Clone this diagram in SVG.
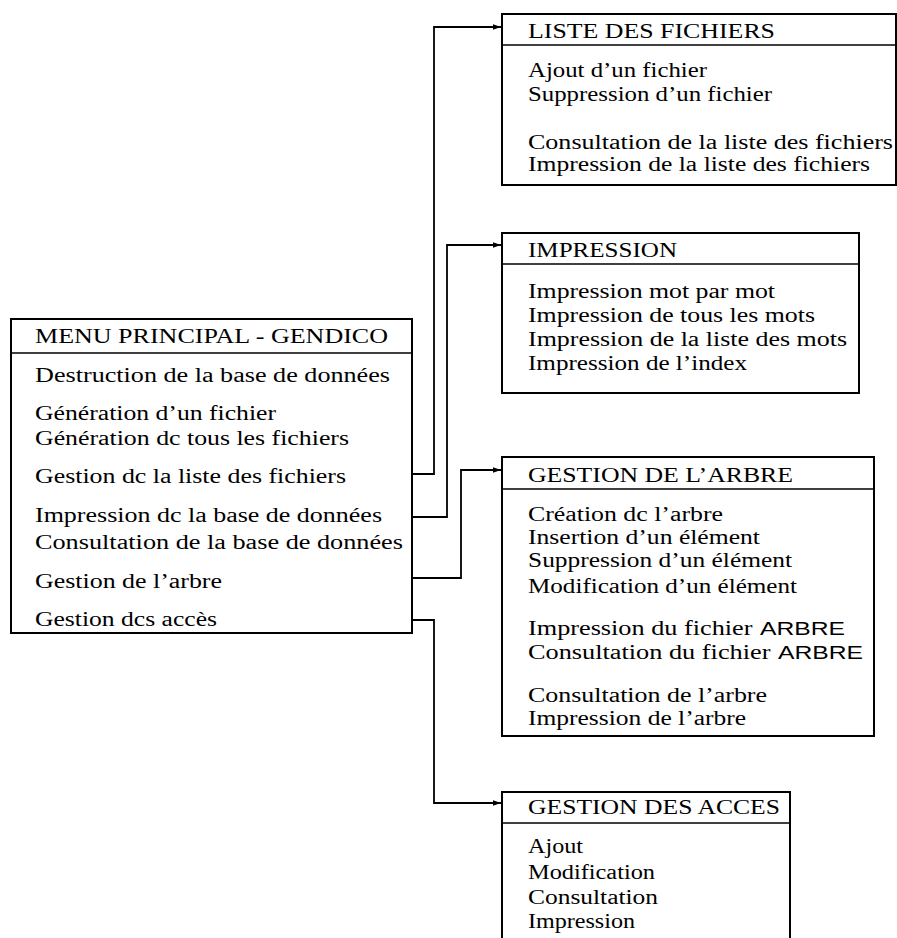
<svg xmlns="http://www.w3.org/2000/svg" width="897" height="938" viewBox="0 0 897 938">
<style>
.box{fill:#fff;stroke:#000;stroke-width:2}
.div{stroke:#000;stroke-width:1.6}
text{font-family:"Liberation Serif","DejaVu Serif",serif;font-size:20.5px;fill:#000}
.ss{font-family:"Liberation Sans","DejaVu Sans",sans-serif;font-size:18px}
.con{fill:none;stroke:#000;stroke-width:1.8}
</style>
<defs>
<marker id="arr" markerUnits="userSpaceOnUse" markerWidth="9" markerHeight="7" refX="8" refY="3.5" orient="auto">
<path d="M0,0.8 L8,3.5 L0,6.2 z" fill="#000"/>
</marker>
</defs>
<rect width="897" height="938" fill="#fff"/>

<g id="connectors">
<path class="con" d="M412,474 H434 V27 H501" marker-end="url(#arr)"/>
<path class="con" d="M412,517 H447 V245 H501" marker-end="url(#arr)"/>
<path class="con" d="M412,578 H461 V470 H501" marker-end="url(#arr)"/>
<path class="con" d="M412,620 H434 V803 H501" marker-end="url(#arr)"/>
</g>

<g id="menu">
<rect class="box" x="11" y="319" width="401" height="314"/>
<line class="div" x1="11" y1="353" x2="412" y2="353"/>
<text x="35" y="343" textLength="353" lengthAdjust="spacingAndGlyphs">MENU PRINCIPAL - GENDICO</text>
<text x="35" y="382" textLength="355" lengthAdjust="spacingAndGlyphs">Destruction de la base de données</text>
<text x="35" y="420" textLength="241" lengthAdjust="spacingAndGlyphs">Génération d’un fichier</text>
<text x="35" y="445" textLength="314" lengthAdjust="spacingAndGlyphs">Génération dc tous les fichiers</text>
<text x="35" y="483" textLength="311" lengthAdjust="spacingAndGlyphs">Gestion dc la liste des fichiers</text>
<text x="35" y="522" textLength="347" lengthAdjust="spacingAndGlyphs">Impression dc la base de données</text>
<text x="35" y="549" textLength="368" lengthAdjust="spacingAndGlyphs">Consultation de la base de données</text>
<text x="35" y="588" textLength="187" lengthAdjust="spacingAndGlyphs">Gestion de l’arbre</text>
<text x="35" y="626" textLength="182" lengthAdjust="spacingAndGlyphs">Gestion dcs accès</text>
</g>

<g id="liste">
<rect class="box" x="502" y="14" width="394" height="171"/>
<line class="div" x1="502" y1="45" x2="896" y2="45"/>
<text x="528" y="38" textLength="247" lengthAdjust="spacingAndGlyphs">LISTE DES FICHIERS</text>
<text x="528" y="77" textLength="179" lengthAdjust="spacingAndGlyphs">Ajout d’un fichier</text>
<text x="528" y="101" textLength="244" lengthAdjust="spacingAndGlyphs">Suppression d’un fichier</text>
<text x="528" y="149" textLength="365" lengthAdjust="spacingAndGlyphs">Consultation de la liste des fichiers</text>
<text x="528" y="171" textLength="342" lengthAdjust="spacingAndGlyphs">Impression de la liste des fichiers</text>
</g>

<g id="impression">
<rect class="box" x="502" y="233" width="357" height="160"/>
<line class="div" x1="502" y1="264" x2="859" y2="264"/>
<text x="528" y="257" textLength="149" lengthAdjust="spacingAndGlyphs">IMPRESSION</text>
<text x="528" y="298" textLength="247" lengthAdjust="spacingAndGlyphs">Impression mot par mot</text>
<text x="528" y="322" textLength="287" lengthAdjust="spacingAndGlyphs">Impression de tous les mots</text>
<text x="528" y="346" textLength="319" lengthAdjust="spacingAndGlyphs">Impression de la liste des mots</text>
<text x="528" y="370" textLength="219" lengthAdjust="spacingAndGlyphs">Impression de l’index</text>
</g>

<g id="arbre">
<rect class="box" x="502" y="457" width="372" height="279"/>
<line class="div" x1="502" y1="489" x2="874" y2="489"/>
<text x="528" y="482" textLength="265" lengthAdjust="spacingAndGlyphs">GESTION DE L’ARBRE</text>
<text x="528" y="521" textLength="195" lengthAdjust="spacingAndGlyphs">Création dc l’arbre</text>
<text x="528" y="544" textLength="232" lengthAdjust="spacingAndGlyphs">Insertion d’un élément</text>
<text x="528" y="567" textLength="264" lengthAdjust="spacingAndGlyphs">Suppression d’un élément</text>
<text x="528" y="593" textLength="269" lengthAdjust="spacingAndGlyphs">Modification d’un élément</text>
<text x="528" y="635"><tspan textLength="231" lengthAdjust="spacingAndGlyphs">Impression du fichier </tspan><tspan class="ss" x="760" textLength="85" lengthAdjust="spacingAndGlyphs">ARBRE</tspan></text>
<text x="528" y="659"><tspan textLength="249" lengthAdjust="spacingAndGlyphs">Consultation du fichier </tspan><tspan class="ss" x="778" textLength="85" lengthAdjust="spacingAndGlyphs">ARBRE</tspan></text>
<text x="528" y="702" textLength="239" lengthAdjust="spacingAndGlyphs">Consultation de l’arbre</text>
<text x="528" y="725" textLength="218" lengthAdjust="spacingAndGlyphs">Impression de l’arbre</text>
</g>

<g id="acces">
<path class="box" d="M502,940 V792 H790 V940"/>
<line class="div" x1="502" y1="823" x2="790" y2="823"/>
<text x="528" y="814" textLength="252" lengthAdjust="spacingAndGlyphs">GESTION DES ACCES</text>
<text x="528" y="853" textLength="55" lengthAdjust="spacingAndGlyphs">Ajout</text>
<text x="528" y="879" textLength="127" lengthAdjust="spacingAndGlyphs">Modification</text>
<text x="528" y="904" textLength="130" lengthAdjust="spacingAndGlyphs">Consultation</text>
<text x="528" y="928" textLength="107" lengthAdjust="spacingAndGlyphs">Impression</text>
</g>
</svg>
